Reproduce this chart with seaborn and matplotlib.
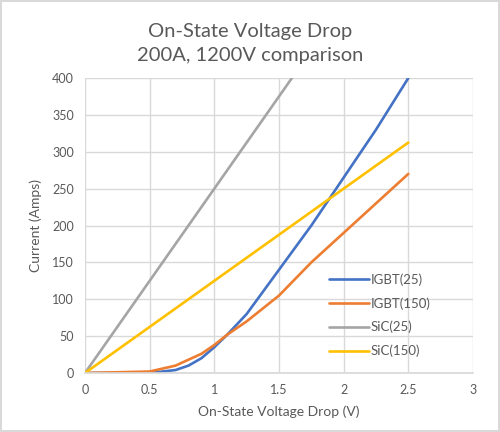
import matplotlib
matplotlib.use("Agg")
import matplotlib.pyplot as plt
import seaborn as sns
import pandas as pd

igbt25_v = [0, 0.5, 0.7, 0.8, 0.9, 1.0, 1.1, 1.25, 1.5, 1.75, 2.0, 2.25, 2.5]
igbt25_i = [0, 0, 4, 10, 20, 35, 52, 80, 140, 200, 265, 330, 400]
igbt150_v = [0, 0.5, 0.7, 0.9, 1.0, 1.1, 1.25, 1.5, 1.75, 2.0, 2.25, 2.5]
igbt150_i = [0, 2, 10, 26, 38, 52, 70, 105, 150, 190, 230, 270]
sic25_v = [0, 0.5, 1.0, 1.6]
sic25_i = [0, 125, 250, 400]
sic150_v = [0, 0.5, 1.0, 1.5, 2.0, 2.5]
sic150_i = [0, 62.5, 125, 187.5, 250, 312.5]

series = ["IGBT(25)", "IGBT(150)", "SiC(25)", "SiC(150)"]
colors = ["#4472C4", "#ED7D31", "#A5A5A5", "#FFC000"]
xticks = [0, 0.5, 1, 1.5, 2, 2.5, 3]
xticklabels = ["0", "0.5", "1", "1.5", "2", "2.5", "3"]
yticks = [0, 50, 100, 150, 200, 250, 300, 350, 400]

frames = []
for name, v, i in zip(series, [igbt25_v, igbt150_v, sic25_v, sic150_v],
                      [igbt25_i, igbt150_i, sic25_i, sic150_i]):
    frames.append(pd.DataFrame({"V": v, "I": i, "Series": name}))
df = pd.concat(frames, ignore_index=True)

sns.set_theme(style="white")
plt.rcParams["font.family"] = ["Lato", "DejaVu Sans"]

fig = plt.figure(figsize=(5.0, 4.32), dpi=100)
fig.patch.set_facecolor("white")
fig.patch.set_edgecolor("#D9D9D9")
fig.patch.set_linewidth(1.5)
ax = fig.add_axes([0.17, 0.1366, 0.776, 0.6828])

sns.lineplot(data=df, x="V", y="I", hue="Series", hue_order=series,
             palette=colors, sort=False, estimator=None, linewidth=1.9,
             ax=ax)

ax.set_xlim(0, 3)
ax.set_ylim(0, 400)
ax.set_xticks(xticks)
ax.set_xticklabels(xticklabels)
ax.set_yticks(yticks)
ax.grid(True, color="#D9D9D9", linewidth=1)
ax.set_axisbelow(True)
for s in ax.spines.values():
    s.set_visible(False)
ax.spines["bottom"].set_visible(True)
ax.spines["bottom"].set_color("#D9D9D9")
ax.tick_params(axis="both", length=0, labelsize=9, colors="#595959", pad=8)
ax.set_xlabel("On-State Voltage Drop (V)", fontsize=10, color="#595959", labelpad=7)
ax.set_ylabel("Current (Amps)", fontsize=10, color="#595959", labelpad=7)

fig.text(0.5, 1 - 31 / 432, "On-State Voltage Drop", ha="center", va="center",
         fontsize=14.5, color="#595959")
fig.text(0.5, 1 - 55.5 / 432, "200A, 1200V comparison", ha="center", va="center",
         fontsize=14.5, color="#595959")

leg = ax.legend(loc="upper left", bbox_to_anchor=(0.63, 0.338), frameon=False,
                fontsize=9.5, handlelength=3.0, handletextpad=0.15,
                labelspacing=0.85, borderaxespad=0, borderpad=0)
for t in leg.get_texts():
    t.set_color("#595959")

fig.savefig("out.png", dpi=100)
